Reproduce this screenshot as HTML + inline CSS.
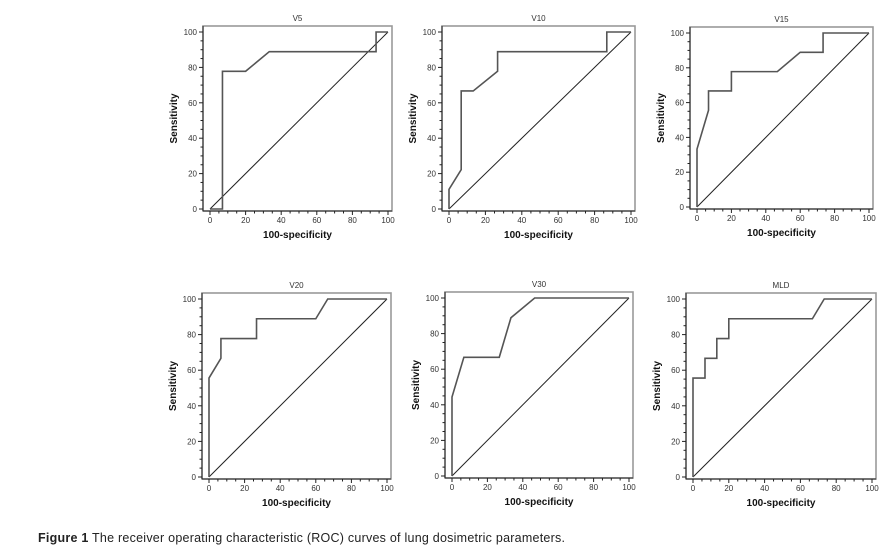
<!DOCTYPE html>
<html><head><meta charset="utf-8"><style>
body{margin:0;background:#fff;width:893px;height:549px;overflow:hidden;font-family:"Liberation Sans",sans-serif}
svg{display:block}
</style></head><body>
<svg id="fig" width="893" height="549" xmlns="http://www.w3.org/2000/svg"></svg>
<script>
const panelTitles=["V5","V10","V15","V20","V30","MLD"];
const fprV5=[0,7,7,20,33.3,93.3,93.3,100];
const tprV5=[0,0,77.8,77.8,88.9,88.9,100,100];
const fprV10=[0,0,6.7,6.7,13.3,26.7,26.7,86.7,86.7,100];
const tprV10=[0,11.1,22.2,66.7,66.7,77.8,88.9,88.9,100,100];
const fprV15=[0,0,6.7,6.7,20,20,46.7,60,73.3,73.3,100];
const tprV15=[0,33.3,55.6,66.7,66.7,77.8,77.8,88.9,88.9,100,100];
const fprV20=[0,0,6.7,6.7,26.7,26.7,60,66.7,100];
const tprV20=[0,55.6,66.7,77.8,77.8,88.9,88.9,100,100];
const fprV30=[0,0,6.7,26.7,33.3,46.7,100];
const tprV30=[0,44.4,66.7,66.7,88.9,100,100];
const fprMLD=[0,0,6.7,6.7,13.3,13.3,20,20,66.7,73.3,100];
const tprMLD=[0,55.6,55.6,66.7,66.7,77.8,77.8,88.9,88.9,100,100];
const tickLabels=[0,20,40,60,80,100];
const fprs=[fprV5,fprV10,fprV15,fprV20,fprV30,fprMLD];
const tprs=[tprV5,tprV10,tprV15,tprV20,tprV30,tprMLD];
const layout=[[210,388,209,32],[449,631,209,32],[697,869,207,33],[209,387,477,299],[452,629,476,298],[693,872,477,299]];
const NS="http://www.w3.org/2000/svg";
const svg=document.getElementById('fig');
function mk(tag,attrs,parent){const e=document.createElementNS(NS,tag);for(const k in attrs)e.setAttribute(k,attrs[k]);(parent||svg).appendChild(e);return e;}
layout.forEach((L,i)=>{
  const [x0,x1,y0,y1]=L;
  const sx=v=>x0+(x1-x0)*v/100, sy=v=>y0+(y1-y0)*v/100;
  const g=mk('g',{});
  
  
  const bl=x0-7,br=x1+4,bt=y1-6,bb=y0+2;
  const box=mk('rect',{x:bl,y:bt,width:br-bl,height:bb-bt,fill:'none',stroke:'#999','stroke-width':1.6},g);
  
  
  mk('line',{x1:bl,y1:bt,x2:bl,y2:bb,stroke:'#222','stroke-width':1},g);
  mk('line',{x1:bl,y1:bb,x2:br,y2:bb,stroke:'#222','stroke-width':1},g);
  for(let v=0;v<=100;v+=5){
    const major=v%20===0;
    const len=major?4:2.5;
    mk('line',{x1:sx(v),y1:bb,x2:sx(v),y2:bb+len,stroke:'#222','stroke-width':1},g);
    mk('line',{x1:bl,y1:sy(v),x2:bl-len,y2:sy(v),stroke:'#222','stroke-width':1},g);
  }
  tickLabels.forEach(t=>{
    const tx=mk('text',{x:sx(t),y:bb+12,'font-size':8,'text-anchor':'middle',fill:'#333'},g);tx.textContent=t;
    
    
    const ty=mk('text',{x:bl-6,y:sy(t)+3,'font-size':8,'text-anchor':'end',fill:'#333'},g);ty.textContent=t;
    
    
  });
  const ti=mk('text',{x:(bl+br)/2,y:bt-5,'font-size':8,'text-anchor':'middle',fill:'#333'},g);ti.textContent=panelTitles[i];
  
  
  const xt=mk('text',{x:(bl+br)/2,y:bb+27,'font-size':10,'font-weight':'bold','text-anchor':'middle',fill:'#111'},g);xt.textContent='100-specificity';
  
  
  const yx=bl-26, yy=(bt+bb)/2;
  const yt=mk('text',{x:yx,y:yy,'font-size':10,'font-weight':'bold','text-anchor':'middle',fill:'#111',transform:`rotate(-90 ${yx} ${yy})`},g);yt.textContent='Sensitivity';
  
  
  const diag=mk('line',{x1:sx(0),y1:sy(0),x2:sx(100),y2:sy(100),stroke:'#222','stroke-width':1},g);
  
  
  const pts=fprs[i].map((f,k)=>sx(f)+','+sy(tprs[i][k])).join(' ');
  const c=mk('polyline',{points:pts,fill:'none',stroke:'#555','stroke-width':1.6},g);
  
  
});
const cap=mk('text',{x:38,y:542,'font-size':12.5,fill:'#222',textLength:527,lengthAdjust:'spacing'});


const b=mk('tspan',{'font-weight':'bold'},cap);b.textContent='Figure 1';
const r=mk('tspan',{},cap);r.textContent=' The receiver operating characteristic (ROC) curves of lung dosimetric parameters.';
</script>
</body></html>
